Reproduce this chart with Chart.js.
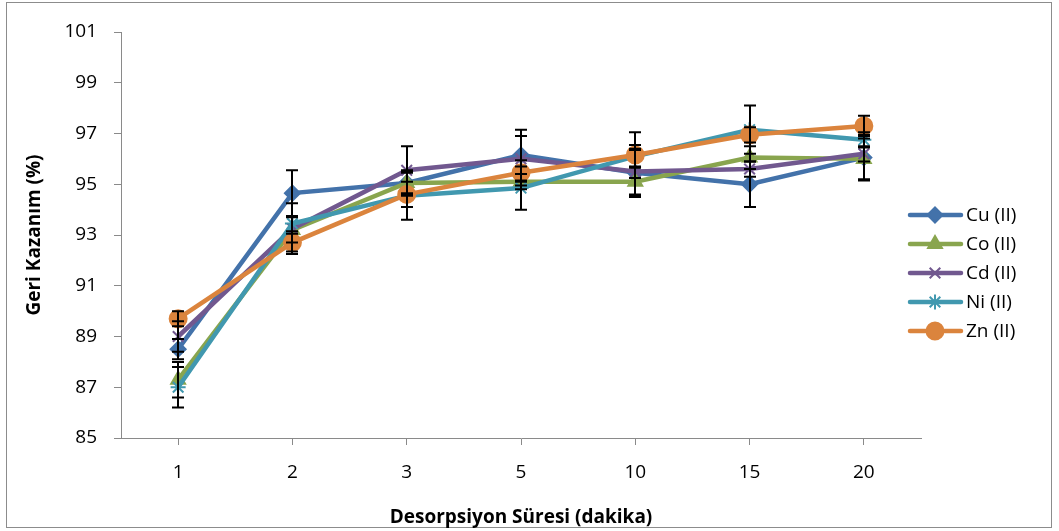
<!DOCTYPE html>
<html>
<head>
<meta charset="utf-8">
<script src="https://cdn.jsdelivr.net/npm/chart.js@4"></script>
<style>
    html, body { margin: 0; padding: 0; background: #fff; }
    #wrap { position: relative; width: 1059px; height: 531px; }
</style>
</head>
<body>
<div id="wrap"><canvas id="chart" width="1059" height="531"></canvas></div>
<script>
// Desorption time categories (minutes)
const categories = ['1', '2', '3', '5', '10', '15', '20'];

// Recovery (%) per metal
const cuValues = [88.5, 94.65, 95.05, 96.15, 95.45, 95.0, 96.05];
const coValues = [87.3, 93.2, 95.05, 95.1, 95.1, 96.05, 96.0];
const cdValues = [89.0, 93.25, 95.55, 96.0, 95.5, 95.6, 96.2];
const niValues = [87.0, 93.45, 94.55, 94.85, 96.1, 97.15, 96.75];
const znValues = [89.7, 92.7, 94.6, 95.45, 96.15, 96.95, 97.3];

// Error bar half-lengths
const cuErrors = [0.4, 0.9, 0.5, 1.0, 0.9, 0.9, 0.9];
const coErrors = [0.7, 0.5, 0.4, 0.3, 0.6, 0.45, 0.8];
const cdErrors = [0.6, 1.0, 0.95, 0.9, 0.9, 0.3, 0.3];
const niErrors = [0.8, 0.3, 0.95, 0.85, 0.45, 0.95, 0.3];
const znErrors = [0.3, 0.35, 0.5, 0.5, 0.9, 0.3, 0.4];

const seriesNames = ['Cu (II)', 'Co (II)', 'Cd (II)', 'Ni (II)', 'Zn (II)'];
const yTicks = [85, 87, 89, 91, 93, 95, 97, 99, 101];

const FONT = "'Open Sans', 'DejaVu Sans', sans-serif";
const AXIS_GREY = '#8a8a8a';

function makeSeries(label, data, errors, color, style, radius, order) {
    return {
        label: label,
        data: data,
        errors: errors,
        borderColor: color,
        backgroundColor: color,
        pointBackgroundColor: color,
        pointBorderColor: color,
        pointBorderWidth: 2,
        pointStyle: style,
        pointRadius: radius,
        borderWidth: 4.5,
        tension: 0,
        order: order
    };
}

// Draws black vertical error bars on top of the lines
const errorBarPlugin = {
    id: 'errorBars',
    afterDatasetsDraw(chart) {
        const ctx = chart.ctx;
        const yScale = chart.scales.y;
        ctx.save();
        ctx.strokeStyle = '#000';
        ctx.lineWidth = 2;
        chart.data.datasets.forEach((ds, i) => {
            const meta = chart.getDatasetMeta(i);
            meta.data.forEach((pt, j) => {
                const v = ds.data[j];
                const e = ds.errors[j];
                const top = yScale.getPixelForValue(v + e);
                const bot = yScale.getPixelForValue(v - e);
                const x = Math.round(pt.x);
                ctx.beginPath();
                ctx.moveTo(x, top);
                ctx.lineTo(x, bot);
                ctx.moveTo(x - 6, top);
                ctx.lineTo(x + 6, top);
                ctx.moveTo(x - 6, bot);
                ctx.lineTo(x + 6, bot);
                ctx.stroke();
            });
        });
        ctx.restore();
    }
};

// Legend on the right, drawn from dataset styles
const sideLegendPlugin = {
    id: 'sideLegend',
    afterDraw(chart) {
        const ctx = chart.ctx;
        ctx.save();
        chart.data.datasets.forEach((ds, i) => {
            const y = 215 + i * 29;
            ctx.strokeStyle = ds.borderColor;
            ctx.lineWidth = 4.5;
            ctx.lineCap = 'round';
            ctx.beginPath();
            ctx.moveTo(910, y);
            ctx.lineTo(961, y);
            ctx.stroke();
            ctx.lineCap = 'butt';
            ctx.fillStyle = ds.pointBackgroundColor;
            ctx.strokeStyle = ds.pointBorderColor;
            ctx.lineWidth = ds.pointBorderWidth;
            Chart.helpers.drawPoint(ctx, { pointStyle: ds.pointStyle, radius: ds.pointRadius, rotation: 0, borderWidth: ds.pointBorderWidth }, 935, y);
            ctx.fillStyle = '#000';
            ctx.font = '19px ' + FONT;
            ctx.textBaseline = 'middle';
            ctx.textAlign = 'left';
            ctx.fillText(seriesNames[i], 966, y + 1);
        });
        ctx.restore();
    }
};

// White background and grey frame round the whole chart
const framePlugin = {
    id: 'frame',
    beforeDraw(chart) {
        const ctx = chart.ctx;
        ctx.save();
        ctx.fillStyle = '#fff';
        ctx.fillRect(0, 0, chart.width, chart.height);
        ctx.strokeStyle = '#8c8c8c';
        ctx.lineWidth = 1;
        ctx.strokeRect(6.5, 2.5, 1045, 525);
        ctx.restore();
    }
};

const ctx = document.getElementById('chart').getContext('2d');
new Chart(ctx, {
    type: 'line',
    data: {
        labels: categories,
        datasets: [
            makeSeries(seriesNames[0], cuValues, cuErrors, '#4372AA', 'rectRot', 7.5, 4),
            makeSeries(seriesNames[1], coValues, coErrors, '#89A54E', 'triangle', 8, 3),
            makeSeries(seriesNames[2], cdValues, cdErrors, '#71588F', 'crossRot', 7.5, 2),
            makeSeries(seriesNames[3], niValues, niErrors, '#4198AF', 'star', 7.5, 1),
            makeSeries(seriesNames[4], znValues, znErrors, '#DB843D', 'circle', 8.5, 0)
        ]
    },
    options: {
        responsive: false,
        animation: false,
        layout: { padding: { left: 0, right: 138, top: 32, bottom: 0 } },
        plugins: {
            legend: { display: false },
            tooltip: { enabled: false }
        },
        scales: {
            x: {
                offset: true,
                grid: { display: true, drawOnChartArea: false, offset: false, tickLength: 7, color: AXIS_GREY },
                border: { color: AXIS_GREY, width: 1 },
                ticks: { color: '#000', font: { family: FONT, size: 19 }, padding: 16 },
                title: {
                    display: true,
                    text: 'Desorpsiyon Süresi (dakika)',
                    color: '#000',
                    font: { family: FONT, size: 19, weight: 'bold' },
                    padding: { top: 0, bottom: 2 }
                },
                afterFit(scale) { scale.height = 93; }
            },
            y: {
                min: 85,
                max: 101,
                afterBuildTicks(scale) { scale.ticks = yTicks.map(v => ({ value: v })); },
                grid: { display: true, drawOnChartArea: false, tickLength: 7, color: AXIS_GREY },
                border: { color: AXIS_GREY, width: 1 },
                ticks: { color: '#000', font: { family: FONT, size: 19 }, padding: 17 },
                title: {
                    display: true,
                    text: 'Geri Kazanım (%)',
                    color: '#000',
                    font: { family: FONT, size: 19, weight: 'bold' },
                    padding: { top: 23, bottom: 0 }
                },
                afterFit(scale) { scale.width = 121; }
            }
        }
    },
    plugins: [framePlugin, errorBarPlugin, sideLegendPlugin]
});
</script>
</body>
</html>
